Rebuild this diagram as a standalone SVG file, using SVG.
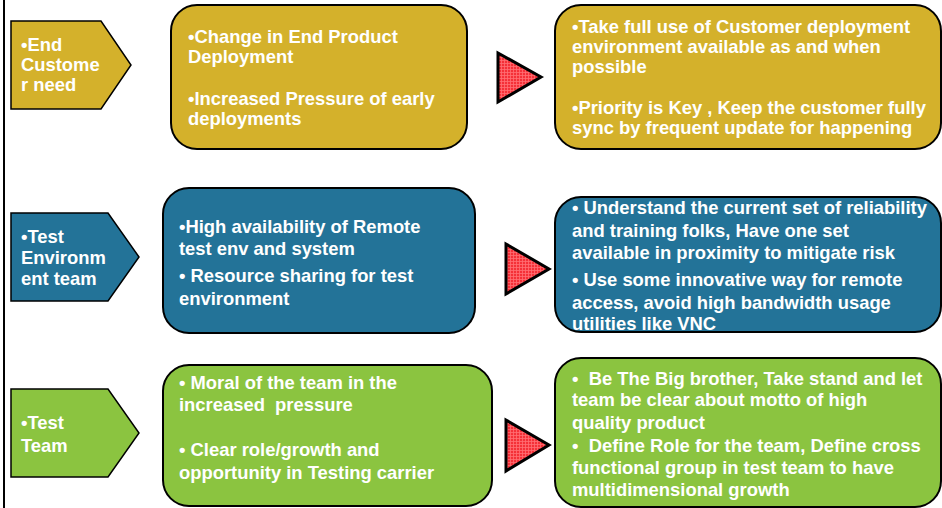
<svg xmlns="http://www.w3.org/2000/svg" width="942" height="508" viewBox="0 0 942 508">
<defs>
<pattern id="hatch" width="3" height="3" patternUnits="userSpaceOnUse">
<rect width="3" height="3" fill="#f53038"/>
<path d="M0 0.5H3M0.5 0V3" stroke="#ff6f74" stroke-width="0.8"/>
</pattern>
<style>
.t{font-family:"Liberation Sans",Arial,sans-serif;font-weight:bold;font-size:18.4px;fill:#fff;white-space:pre}
.gold{fill:#d4b12b;stroke:#000;stroke-width:2}
.blue{fill:#237398;stroke:#000;stroke-width:2}
.green{fill:#8bc440;stroke:#000;stroke-width:2}
.pent{stroke-width:1.5}
.arr{fill:url(#hatch);stroke:#000;stroke-width:3;stroke-linejoin:miter}
</style>
</defs>
<rect width="942" height="508" fill="#fff"/>
<line x1="4" y1="0" x2="4" y2="508" stroke="#000" stroke-width="2"/>

<g id="need">
<polygon class="gold pent" points="11,21 101,21 131,65 101,109 11,109"/>
<text class="t" x="21" y="51">•End</text>
<text class="t" x="21" y="71">Custome</text>
<text class="t" x="21" y="91">r need</text>
</g>
<g id="need-issues">
<rect class="gold" x="171" y="5" width="296" height="144" rx="26"/>
<text class="t" x="188" y="42.5">•Change in End Product</text>
<text class="t" x="188" y="62.5">Deployment</text>
<text class="t" x="188" y="104.5">•Increased Pressure of early</text>
<text class="t" x="188" y="124.5">deployments</text>
</g>
<g id="need-actions">
<rect class="gold" x="555" y="5" width="386" height="144" rx="26"/>
<text class="t" x="572" y="33">•Take full use of Customer deployment</text>
<text class="t" x="572" y="53">environment available as and when</text>
<text class="t" x="572" y="73">possible</text>
<text class="t" x="572" y="114">•Priority is Key , Keep the customer fully</text>
<text class="t" x="572" y="134">sync by frequent update for happening</text>
</g>

<g id="env">
<polygon class="blue pent" points="11,213 108,213 139,257 108,301 11,301"/>
<text class="t" x="21" y="242.5">•Test</text>
<text class="t" x="21" y="263.5">Environm</text>
<text class="t" x="21" y="285">ent team</text>
</g>
<g id="env-issues">
<rect class="blue" x="163" y="188" width="312" height="145" rx="26"/>
<text class="t" x="179" y="232.5">•High availability of Remote</text>
<text class="t" x="179" y="254.5">test env and system</text>
<text class="t" x="179" y="282">• Resource sharing for test</text>
<text class="t" x="179" y="304.5">environment</text>
</g>
<g id="env-actions">
<rect class="blue" x="555" y="197" width="386" height="135" rx="26"/>
<text class="t" x="572" y="214">• Understand the current set of reliability</text>
<text class="t" x="572" y="236.5">and training folks, Have one set</text>
<text class="t" x="572" y="259">available in proximity to mitigate risk</text>
<text class="t" x="572" y="286">• Use some innovative way for remote</text>
<text class="t" x="572" y="308.5">access, avoid high bandwidth usage</text>
<text class="t" x="572" y="330">utilities like VNC</text>
</g>

<g id="team">
<polygon class="green pent" points="11,389 108,389 139,433 108,477 11,477"/>
<text class="t" x="21" y="428.5">•Test</text>
<text class="t" x="21" y="452">Team</text>
</g>
<g id="team-issues">
<rect class="green" x="163" y="365" width="329" height="141" rx="26"/>
<text class="t" x="179" y="388.5">• Moral of the team in the</text>
<text class="t" x="179" y="411">increased  pressure</text>
<text class="t" x="179" y="456">• Clear role/growth and</text>
<text class="t" x="179" y="478.5">opportunity in Testing carrier</text>
</g>
<g id="team-actions">
<rect class="green" x="555" y="358" width="386" height="149" rx="26"/>
<text class="t" x="572" y="384.5">•  Be The Big brother, Take stand and let</text>
<text class="t" x="572" y="406">team be clear about motto of high</text>
<text class="t" x="572" y="428.5">quality product</text>
<text class="t" x="572" y="451.5">•  Define Role for the team, Define cross</text>
<text class="t" x="572" y="474">functional group in test team to have</text>
<text class="t" x="572" y="496">multidimensional growth</text>
</g>

<g id="connectors">
<polygon class="arr" points="498,53 541,77 498,102"/>
<polygon class="arr" points="506,244 549,269 506,294"/>
<polygon class="arr" points="506,420 549,445 506,471"/>
</g>
</svg>
